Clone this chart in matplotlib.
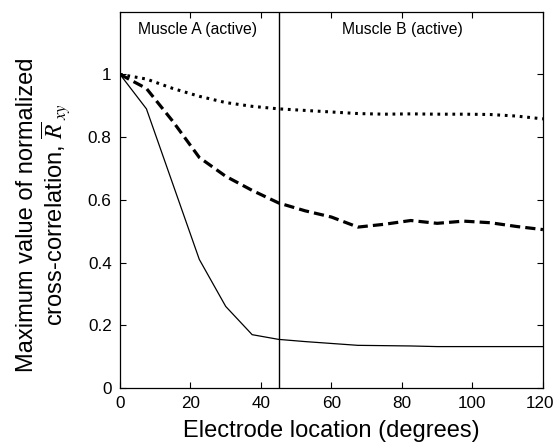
import matplotlib
matplotlib.use("Agg")
import matplotlib.pyplot as plt
from matplotlib.transforms import ScaledTranslation

plt.rcParams['font.family'] = ['Liberation Sans', 'DejaVu Sans']
plt.rcParams['mathtext.fontset'] = 'stix'

# Data
location_deg = [0, 7.5, 15, 22.5, 30, 37.5, 45, 52.5, 60, 67.5, 75, 82.5, 90, 97.5, 105, 112.5, 120]
solid_vals = [1.0, 0.89, 0.65, 0.41, 0.26, 0.17, 0.155, 0.148, 0.142, 0.136, 0.135, 0.134, 0.132, 0.132, 0.132, 0.132, 0.132]
dashed_vals = [1.0, 0.955, 0.85, 0.735, 0.675, 0.63, 0.59, 0.565, 0.545, 0.513, 0.522, 0.534, 0.525, 0.532, 0.527, 0.515, 0.505]
dotted_vals = [1.0, 0.985, 0.955, 0.93, 0.91, 0.898, 0.89, 0.885, 0.88, 0.875, 0.873, 0.874, 0.873, 0.873, 0.872, 0.867, 0.858]
boundary_deg = 45
x_ticks = [0, 20, 40, 60, 80, 100, 120]
y_ticks = [0, 0.2, 0.4, 0.6, 0.8, 1.0]
y_ticklabels = ['0', '0.2', '0.4', '0.6', '0.8', '1']
region_labels = ['Muscle A (active)', 'Muscle B (active)']
region_label_x = [22, 80]

fig = plt.figure(figsize=(5.54, 4.47), dpi=100)
ax = fig.add_axes([0.2166, 0.132, 0.7634, 0.842])

ax.plot(location_deg, solid_vals, color='black', lw=0.9, solid_joinstyle='miter')
ax.plot(location_deg, dashed_vals, color='black', lw=2.3, linestyle=(0, (3.2, 1.6)))
ax.plot(location_deg, dotted_vals, color='black', lw=2.2, linestyle=(0, (0.9, 1.55)))
ax.axvline(boundary_deg, color='black', lw=1.0)

for lbl, xpos in zip(region_labels, region_label_x):
    ax.text(xpos, 1.142, lbl, ha='center', va='center', fontsize=11.3)

ax.set_xlim(0, 120)
ax.set_ylim(0, 1.2)
ax.set_xticks(x_ticks)
ax.set_xticklabels([str(t) for t in x_ticks])
ax.set_yticks(y_ticks)
ax.set_yticklabels(y_ticklabels)
ax.tick_params(direction='in', length=4, width=0.8, top=True, right=True, labelsize=12.3, pad=6)
for s in ax.spines.values():
    s.set_linewidth(0.9)

# nudge the last x tick label so it stays inside the figure, as in the reference
last = ax.get_xticklabels()[-1]
last.set_transform(last.get_transform() + ScaledTranslation(-3 / 100, 0, fig.dpi_scale_trans))

ax.set_xlabel('Electrode location (degrees)', fontsize=17, labelpad=6)
ax.set_ylabel('Maximum value of normalized\ncross-correlation, $\\overline{R}_{\\ xy}$', fontsize=17,
              labelpad=11, linespacing=1.05)
ax.yaxis.label.set_y(0.46)

fig.savefig('out.png', dpi=100)
